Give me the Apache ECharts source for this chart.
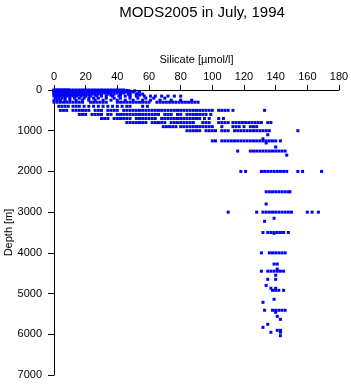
<!DOCTYPE html>
<html>
<head>
<meta charset="utf-8">
<script src="https://cdn.jsdelivr.net/npm/echarts@6/dist/echarts.min.js"></script>
<style>
  html, body { margin: 0; padding: 0; background: #fff; }
  #chart { width: 351px; height: 384px; }
</style>
</head>
<body>
<div id="chart"></div>
<script>
// 观测深度 (m)
const depthLevels = [
  0, 10, 20, 30, 50, 75, 100, 125, 150, 200, 250, 300, 400, 500, 600, 700, 800, 900, 1000,
  1100, 1200, 1250, 1300, 1400, 1500, 1600, 2000, 2500, 2800, 3000, 3150, 3225, 3500, 3520,
  4000, 4275, 4400, 4450, 4550, 4650, 4800, 4870, 4920, 5140, 5215, 5410, 5460, 5560, 5633,
  5755, 5830, 5903, 5950, 6035
]
// 每个深度上的硅酸盐值 (µmol/l)
const silicateRows = [
  [0,1,2,3,4,5,6,7,8,9,10,12,14,16,18,20,22,24,26,28,30,32,34,36,38,40,42,44],
  [0,2,4,6,8,10,12,14,16,18,20,22,24,26,28,30,32,34,36,38,40,42,44,46],
  [0,2,4,6,8,10,12,14,16,18,20,22,24,26,28,30,32,34,36,38,40,43,47,51],
  [0,2,4,6,8,10,12,14,16,18,20,22,24,26,28,30,32,34,36,38,40,42,44,46,48],
  [0,2,4,6,8,10,12,14,16,18,20,22,24,26,28,30,32,34,36,38,40,42,44,46,48,50,54],
  [0,2,4,6,8,10,12,14,16,18,20,22,24,26,28,30,32,34,36,40,44,48,53],
  [0,2,4,6,8,10,12,14,16,18,20,22,24,26,28,30,34,38,42,47,52,56],
  [1,3,5,7,9,11,13,15,17,19,22,26,30,36,42,48,54],
  [0,2,4,6,8,10,12,14,17,20,23,27,30,33,37,41,45,48,52,57,61,64,68,72,76,80],
  [1,3,5,7,10,13,16,19,22,25,28,33,38,42,48,53,58,63,70],
  [0,2,4,7,10,14,18,22,26,31,36,40,45,50,56,61,67,74,80,87],
  [0,2,4,6,8,10,12,14,16,18,23,25,27,29,31,33,40,42,44,46,48,50,52,54,56,58,60,65,67,69,71,73,75,77,79,81,83,85,87,89,91],
  [3,5,7,9,12,14,16,19,22,25,28,31,34,37,40,43,46,48,56,59],
  [4,6,8,12,14,16,18,20,22,26,28,30,34,36,38,40,44,46,48,50,52,54,56,58,60,62,64,66,68,70,72,74,76,78,80,82,84,86,88,90,92,94,96,98,100,104,106,108,110,113,133],
  [16,18,20,24,26,28,30,34,36,40,42,44,46,48,50,52,54,56,58,60,62,64,66,70,72,74,78,80,84,86,88,90,92,94,96,99],
  [30,32,34,38,40,42,44,46,48,52,54,56,58,60,62,64,68,70,72,74,76,78,80,82,84,86,88,90,92,95,98,104,107],
  [46,48,50,52,54,56,58,62,64,66,68,70,74,76,78,80,82,84,86,88,94,96,98,104,106,108,110,113,115,117,119,121,123,125,127,129,131,135,137],
  [69,71,73,75,77,80,82,84,86,88,90,92,94,96,98,100,106,113,115,117,120,124,126,128],
  [84,86,88,90,92,96,98,100,102,106,108,110,114,116,118,120,122,124,126,128,130,132,134,136,154],
  [135],
  [132],
  [100,102,106,108,110,112,114,116,118,120,122,124,126,128,130,132,134,136,138,140,143],
  [134],
  [140],
  [116,124,126,128,130,132,134,136,138,140,142,144,146],
  [147],
  [118,121,131,133,135,137,139,141,143,145,147,154,157,169],
  [134,136,138,140,142,144,146,148,149],
  [134],
  [110,128,132,134,136,138,140,142,144,146,148,150,160,163,167],
  [139],
  [133],
  [132,135,137,139,141,143,145,148],
  [139],
  [131,136,138,140,142,144,146],
  [139,141],
  [141],
  [131,135,137,139,141,143,145],
  [140],
  [135,140],
  [134],
  [137,140],
  [138,140,142,145],
  [139],
  [132],
  [133,138,140,142,144,146],
  [140],
  [141],
  [143],
  [135],
  [132],
  [141,143],
  [137,143],
  [143]
]
const xTicks = { min: 0, max: 180, interval: 20 }
const yTicks = { min: 0, max: 7000, interval: 1000 }

let points = []
depthLevels.forEach((d, i) => {
  silicateRows[i].forEach(v => {
    points.push([v, d])
  })
})

const font = 'Liberation Sans, Arial, sans-serif'
let myChart = echarts.init(document.getElementById('chart'), null, { renderer: 'canvas' })
myChart.setOption({
  animation: false,
  title: {
    text: 'MODS2005 in July, 1994',
    left: 197,
    top: 0,
    textAlign: 'center',
    textStyle: { fontFamily: font, fontSize: 15, fontWeight: 'normal', color: '#000' }
  },
  grid: { left: 54, right: 12, top: 90, bottom: 9, containLabel: false, outerBoundsMode: 'none' },
  xAxis: {
    type: 'value',
    position: 'top',
    min: xTicks.min, max: xTicks.max, interval: xTicks.interval,
    name: 'Silicate [µmol/l]',
    nameLocation: 'middle',
    nameGap: 25,
    nameMoveOverlap: false,
    nameTextStyle: { fontFamily: font, fontSize: 11, color: '#000' },
    axisLine: { show: true, lineStyle: { color: '#000', width: 1 } },
    axisTick: { show: true, length: 5, lineStyle: { color: '#000' } },
    axisLabel: { fontFamily: font, fontSize: 11, color: '#000', margin: 8 },
    splitLine: { show: false }
  },
  yAxis: {
    type: 'value',
    inverse: true,
    min: yTicks.min, max: yTicks.max, interval: yTicks.interval,
    name: 'Depth [m]',
    nameLocation: 'middle',
    nameGap: 40,
    nameMoveOverlap: false,
    nameTextStyle: { fontFamily: font, fontSize: 11, color: '#000' },
    axisLine: { show: true, lineStyle: { color: '#000', width: 1 } },
    axisTick: { show: true, length: 6, lineStyle: { color: '#000' } },
    axisLabel: { fontFamily: font, fontSize: 11, color: '#000', margin: 12, formatter: v => String(v) },
    splitLine: { show: false }
  },
  series: [{
    type: 'scatter',
    data: points,
    symbol: 'rect',
    symbolSize: 3,
    itemStyle: { color: '#0000ff', opacity: 1 },
    silent: true
  }]
})
</script>
</body>
</html>
